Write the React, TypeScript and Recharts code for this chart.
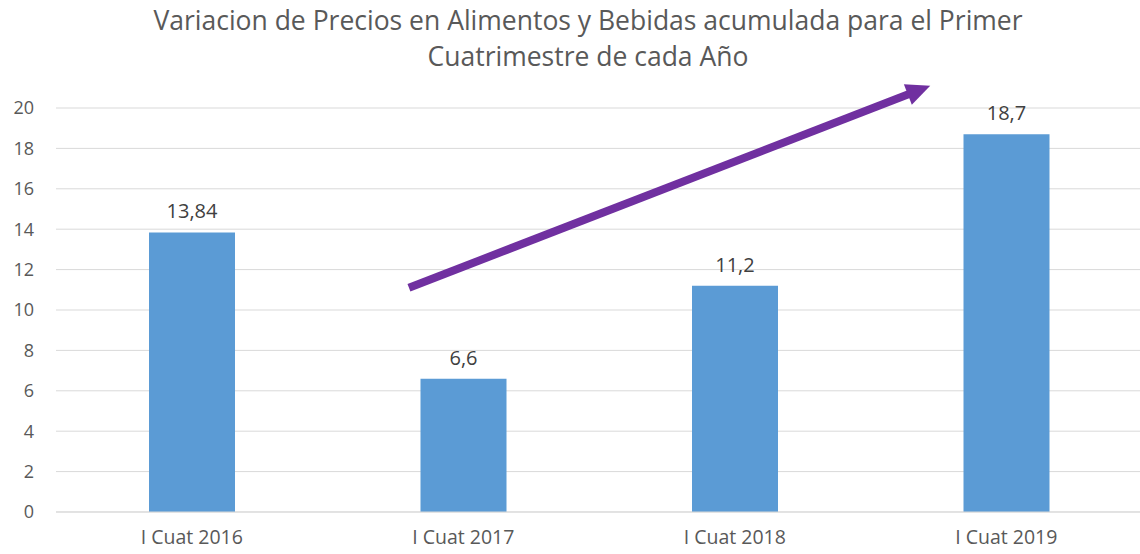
import { BarChart, Bar, XAxis, YAxis, CartesianGrid, LabelList, ReferenceLine } from "recharts";

const categories = ["I Cuat 2016", "I Cuat 2017", "I Cuat 2018", "I Cuat 2019"];
const variacion = [13.84, 6.6, 11.2, 18.7];
const yTicks = [0, 2, 4, 6, 8, 10, 12, 14, 16, 18, 20];
// tendency arrow, x in category-index units (bar centres at 0..3), y in data units
const arrowFrom = { x: 0.8, y: 11.1 };
const arrowTo = { x: 2.72, y: 21.1 };

const data = categories.map((name, i) => ({ name, value: variacion[i], idx: i }));

const FONT = "'Open Sans', 'Noto Sans', sans-serif";

function Arrow(props: any) {
  const { x1, y1, x2, y2 } = props;
  if (x1 == null) return null;
  const dx = x2 - x1;
  const dy = y2 - y1;
  const len = Math.sqrt(dx * dx + dy * dy);
  const ux = dx / len;
  const uy = dy / len;
  const head = 24;
  const half = 11;
  const bx = x2 - ux * head;
  const by = y2 - uy * head;
  return (
    <g>
      <line x1={x1} y1={y1} x2={bx + ux * 2} y2={by + uy * 2} stroke="#7030A0" strokeWidth={8} />
      <polygon
        points={`${x2},${y2} ${bx - uy * half},${by + ux * half} ${bx + uy * half},${by - ux * half}`}
        fill="#7030A0"
      />
    </g>
  );
}

export default function App() {
  return (
    <div style={{ position: "absolute", left: 0, top: 0, width: 1140, height: 554, overflow: "hidden", background: "#fff", fontFamily: FONT }}>
      <div style={{ position: "absolute", left: 0, top: 2, width: 1176, textAlign: "center", color: "#595959", fontSize: 26.5, lineHeight: "36px" }}>
        Variacion de Precios en Alimentos y Bebidas acumulada para el Primer
        <br />
        Cuatrimestre de cada Año
      </div>
      <BarChart width={1142} height={554} data={data} margin={{ top: 108, right: 0, left: 0, bottom: 12 }}>
        <CartesianGrid vertical={false} stroke="#d9d9d9" />
        <XAxis
          dataKey="name"
          axisLine={{ stroke: "#d9d9d9" }}
          tickLine={false}
          tickSize={0}
          tickMargin={18}
          height={30}
          tick={{ fill: "#595959", fontSize: 19.5, fontFamily: FONT }}
        />
        <XAxis xAxisId="pos" dataKey="idx" type="number" domain={[-0.5, 3.5]} allowDataOverflow hide />
        <YAxis
          domain={[0, 20]}
          ticks={yTicks}
          axisLine={false}
          tickLine={false}
          tickSize={0}
          tickMargin={22}
          width={56}
          tick={{ fill: "#595959", fontSize: 18, fontFamily: FONT }}
        />
        <Bar dataKey="value" fill="#5B9BD5" barSize={86} isAnimationActive={false}>
          <LabelList
            dataKey="value"
            position="top"
            offset={14}
            fill="#404040"
            fontSize={20}
            fontFamily={FONT}
            formatter={(v: any) => String(v).replace(".", ",")}
          />
        </Bar>
        <ReferenceLine
          xAxisId="pos"
          segment={[arrowFrom, arrowTo]}
          ifOverflow="visible"
          shape={Arrow}
        />
      </BarChart>
    </div>
  );
}
